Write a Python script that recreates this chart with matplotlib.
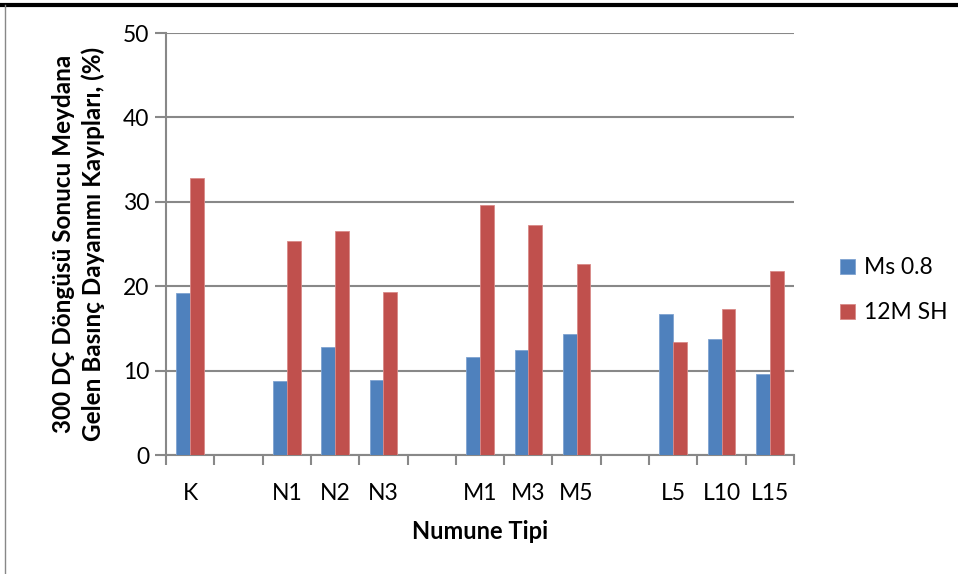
import numpy as np
import matplotlib
matplotlib.use('Agg')
import matplotlib.pyplot as plt
from matplotlib.lines import Line2D

plt.rcParams['font.family'] = ['Lato', 'DejaVu Sans']

categories = ['K', '', 'N1', 'N2', 'N3', '', 'M1', 'M3', 'M5', '', 'L5', 'L10', 'L15']
ms08 = [19.2, np.nan, 8.8, 12.8, 8.9, np.nan, 11.6, 12.4, 14.3, np.nan, 16.7, 13.8, 9.6]
sh12m = [32.8, np.nan, 25.4, 26.5, 19.3, np.nan, 29.6, 27.3, 22.6, np.nan, 13.4, 17.3, 21.8]
series_names = ['Ms 0.8', '12M SH']

fig = plt.figure(figsize=(9.58, 5.74), dpi=100)
ax = fig.add_axes([0.1733, 0.2073, 0.8288 - 0.1733, 0.9425 - 0.2073])

x = np.arange(len(categories))
w = 1 / 3.5
ax.bar(x - w / 2, ms08, width=w, color='#4F81BD', edgecolor='#7FA3D1', linewidth=0.6,
       label=series_names[0], zorder=3)
ax.bar(x + w / 2, sh12m, width=w, color='#C0504D', edgecolor='#D98A88', linewidth=0.6,
       label=series_names[1], zorder=3)

ax.set_xlim(-0.5, len(categories) - 0.5)
ax.set_ylim(0, 50)
ax.set_yticks(np.arange(0, 51, 10))
ax.yaxis.grid(True, color='#888888', linewidth=1.5, zorder=0)

# boundaries get tick marks, centers get the labels
ax.set_xticks(np.arange(-0.5, len(categories), 1.0))
ax.set_xticklabels([])
ax.set_xticks(x, minor=True)
ax.set_xticklabels(categories, minor=True)
ax.tick_params(axis='x', which='minor', length=0, pad=20, labelsize=16.5)
ax.tick_params(axis='x', which='major', length=7, width=1.5, color='#888888', direction='out')
ax.tick_params(axis='y', length=8, width=1.5, color='#888888', labelsize=16.5, pad=4)

for side in ['top', 'right']:
    ax.spines[side].set_visible(False)
for side in ['left', 'bottom']:
    ax.spines[side].set_color('#888888')
    ax.spines[side].set_linewidth(1.5)

ax.set_xlabel('Numune Tipi', fontsize=17, fontweight='bold', labelpad=12)
ax.set_ylabel('300 DÇ Döngüsü Sonucu Meydana\nGelen Basınç Dayanımı Kayıpları, (%)',
              fontsize=17.5, fontweight='bold', labelpad=13, linespacing=1.3)

ax.legend(loc='center left', bbox_to_anchor=(1.04, 0.39), frameon=False, fontsize=16.5,
          handlelength=0.65, handleheight=0.65, handletextpad=0.4, labelspacing=1.05)

# outer frame of the screenshot
fig.add_artist(Line2D([0, 1], [0.991, 0.991], color='black', linewidth=3))
fig.add_artist(Line2D([0.0055, 0.0055], [0, 0.991], color='#888888', linewidth=1))

fig.savefig('out.png', dpi=100)
